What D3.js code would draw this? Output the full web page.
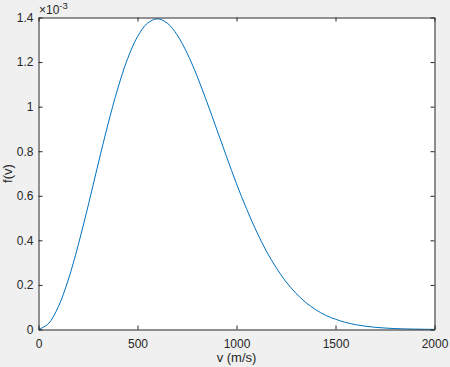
<!DOCTYPE html>
<html>
<head>
<meta charset="utf-8">
<script src="https://cdn.jsdelivr.net/npm/d3@7"></script>
<style>
  html, body { margin: 0; padding: 0; background: #f0f0f0; }
  svg { display: block; }
  text { font-family: "Liberation Sans", Arial, sans-serif; fill: #262626; }
</style>
</head>
<body>
<div id="plot"></div>
<script>
// speeds (m/s)
const speeds = [0, 50, 100, 150, 200, 250, 300, 350, 400, 450, 500, 550, 600, 650, 700,
  750, 800, 850, 900, 950, 1000, 1050, 1100, 1150, 1200, 1250, 1300, 1350, 1400, 1450,
  1500, 1550, 1600, 1650, 1700, 1750, 1800, 1850, 1900, 1950, 2000];
// f(v), in units of 1e-3
const density = [0, 0.026, 0.102, 0.222, 0.377, 0.553, 0.738, 0.918, 1.080, 1.215, 1.314,
  1.374, 1.394, 1.375, 1.322, 1.241, 1.139, 1.022, 0.899, 0.775, 0.654, 0.543, 0.442,
  0.353, 0.278, 0.214, 0.163, 0.121, 0.089, 0.064, 0.046, 0.032, 0.022, 0.0149, 0.0099,
  0.0065, 0.0042, 0.0027, 0.0017, 0.001, 0.0006];
const xTicks = [0, 500, 1000, 1500, 2000];
const yTicks = [0, 0.2, 0.4, 0.6, 0.8, 1, 1.2, 1.4];

const W = 450, H = 367;
const margin = { top: 17.5, right: 15.5, bottom: 37.5, left: 38.5 };
const width = W - margin.left - margin.right;
const height = H - margin.top - margin.bottom;

const x = d3.scaleLinear().domain([0, 2000]).range([0, width]);
const y = d3.scaleLinear().domain([0, 1.4]).range([height, 0]);

const svg = d3.select("#plot").append("svg")
    .attr("width", W)
    .attr("height", H);

const g = svg.append("g")
    .attr("transform", `translate(${margin.left},${margin.top})`);

g.append("rect")
    .attr("width", width)
    .attr("height", height)
    .attr("fill", "#ffffff");

// line
const pts = speeds.map((v, i) => ({ v: v, f: density[i] }));
const line = d3.line()
    .x(d => x(d.v))
    .y(d => y(d.f))
    .curve(d3.curveCatmullRom);

g.append("path")
    .datum(pts)
    .attr("fill", "none")
    .attr("stroke", "#0072bd")
    .attr("stroke-width", 1)
    .attr("d", line);

// axes, matlab style: ticks inward on all four sides
const tick = 4;
function styleAxis(sel) {
  sel.attr("font-family", null).attr("font-size", null);
  sel.select(".domain").attr("stroke", "#262626");
  sel.selectAll(".tick line").attr("stroke", "#262626");
  sel.selectAll("text").style("font-size", "12px").attr("fill", "#262626");
}

g.append("g")
    .attr("transform", `translate(0,${height})`)
    .call(d3.axisBottom(x).tickValues(xTicks).tickSizeInner(-tick).tickSizeOuter(0)
      .tickPadding(9.5).tickFormat(d3.format("d")))
    .call(styleAxis);

g.append("g")
    .call(d3.axisTop(x).tickValues(xTicks).tickSizeInner(-tick).tickSizeOuter(0).tickFormat(""))
    .call(styleAxis);

g.append("g")
    .call(d3.axisLeft(y).tickValues(yTicks).tickSizeInner(-tick).tickSizeOuter(0)
      .tickPadding(5).tickFormat(d => d3.format("~g")(d)))
    .call(styleAxis);

g.append("g")
    .attr("transform", `translate(${width},0)`)
    .call(d3.axisRight(y).tickValues(yTicks).tickSizeInner(-tick).tickSizeOuter(0).tickFormat(""))
    .call(styleAxis);

// exponent label
const expo = svg.append("text")
    .attr("x", 39)
    .attr("y", 14)
    .style("font-size", "12px");
expo.append("tspan").text("\u00d710");
expo.append("tspan").attr("dy", -4.7).style("font-size", "9.5px").text("-3");

// axis titles
svg.append("text")
    .attr("x", margin.left + width / 2)
    .attr("y", 362.3)
    .attr("text-anchor", "middle")
    .style("font-size", "13px")
    .text("v (m/s)");

svg.append("text")
    .attr("transform", `translate(12,${margin.top + height / 2}) rotate(-90)`)
    .attr("text-anchor", "middle")
    .style("font-size", "13px")
    .text("f(v)");
</script>
</body>
</html>
